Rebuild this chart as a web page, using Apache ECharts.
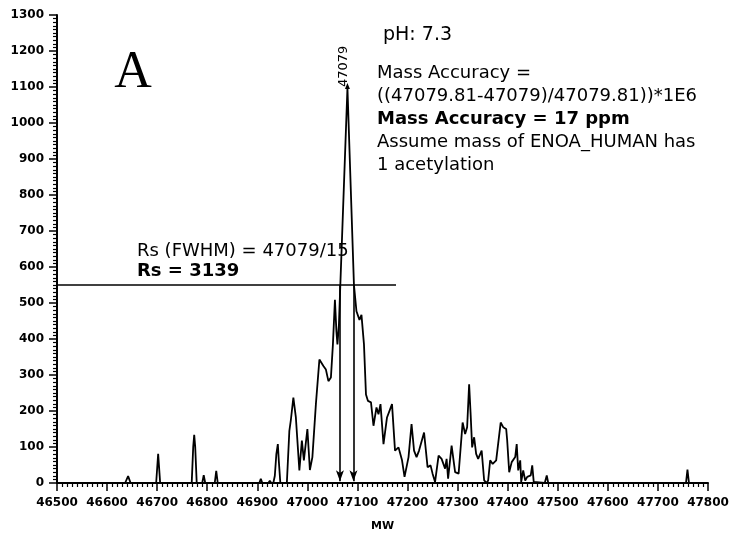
<!DOCTYPE html>
<html>
<head>
<meta charset="utf-8">
<script src="https://cdn.jsdelivr.net/npm/echarts@6/dist/echarts.min.js"></script>
<style>html,body{margin:0;padding:0;background:#fff}#c{width:732px;height:537px}</style>
</head>
<body>
<div id="c"></div>
<script>
// Molecular weight (x) and intensity (y)
const mw = [46500,46636,46642,46647,46698,46702,46706,46769,46772,46774,46776,46779,46790,46793,46796,46815,46818,46821,46904,46907,46910,46922,46925,46928,46932,46935,46938,46941,46943,46946,46959,46964,46967,46972,46977,46984,46989,46993,47000,47005,47010,47017,47024,47032,47037,47042,47047,47051,47055,47058,47060,47063,47065,47080,47093,47098,47104,47108,47113,47117,47121,47127,47132,47138,47142,47146,47152,47159,47169,47175,47182,47189,47194,47202,47208,47213,47218,47223,47233,47240,47246,47250,47255,47262,47268,47275,47278,47281,47288,47295,47302,47310,47315,47319,47323,47326,47329,47333,47337,47341,47348,47353,47358,47361,47365,47370,47377,47386,47391,47397,47399,47403,47408,47415,47418,47421,47425,47427,47431,47435,47439,47446,47449,47452,47455,47474,47478,47481,47665,47668,47671,47756,47759,47762,47800];
const intensity = [0,0,19,0,0,81,0,0,100,134,100,0,0,22,0,0,34,0,0,12,0,0,6,0,0,20,80,108,60,0,0,145,175,237,182,35,118,63,150,36,72,219,343,325,315,283,293,385,509,420,385,440,520,1097,550,477,453,467,385,246,228,224,159,210,191,219,108,182,219,90,99,63,17,72,164,90,72,90,140,44,49,26,3,76,67,40,67,12,104,30,26,168,136,155,274,191,99,127,81,67,90,7,0,7,63,53,63,168,155,150,118,30,58,72,108,35,63,3,35,7,17,21,49,3,0,0,21,0,0,4,0,0,37,0,0];

const peakMW = 47080, peakVal = 1097, peakLabel = '47079';
const rsLevel = 550, rsEnd = 47177;
const arrowMW = [47065, 47092];
const arrowBottom = 5;

const xMin = 46500, xMax = 47800, yMin = 0, yMax = 1300;

const annotLines = [
  {t: 'Mass Accuracy =', b: false},
  {t: '((47079.81-47079)/47079.81))*1E6', b: false},
  {t: 'Mass Accuracy = 17 ppm', b: true},
  {t: 'Assume mass of ENOA_HUMAN has', b: false},
  {t: '1 acetylation', b: false}
];

const chart = echarts.init(document.getElementById('c'), null, {renderer: 'canvas'});
const F = 'DejaVu Sans';
const data = mw.map((m, i) => [m, intensity[i]]);

const graphics = [
  {type: 'text', style: {x: 133, y: 73, text: 'A', font: '52px "Liberation Serif"', fill: '#000', textAlign: 'center', textVerticalAlign: 'middle'}},
  {type: 'text', style: {x: 383, y: 35, text: 'pH: 7.3', font: '19px "' + F + '"', fill: '#000', textAlign: 'left', textVerticalAlign: 'middle'}},
  {type: 'text', style: {x: 137, y: 251, text: 'Rs (FWHM) = 47079/15', font: '18px "' + F + '"', fill: '#000', textAlign: 'left', textVerticalAlign: 'middle'}},
  {type: 'text', style: {x: 137, y: 271, text: 'Rs = 3139', font: 'bold 18px "' + F + '"', fill: '#000', textAlign: 'left', textVerticalAlign: 'middle'}}
];
annotLines.forEach((l, i) => {
  graphics.push({type: 'text', style: {x: 377, y: 73 + i * 23, text: l.t, font: (l.b ? 'bold ' : '') + '18px "' + F + '"', fill: '#000', textAlign: 'left', textVerticalAlign: 'middle'}});
});

const plain = v => String(v);

chart.setOption({
  animation: false,
  backgroundColor: '#fff',
  grid: {left: 57, right: 24, top: 15, bottom: 51, containLabel: false},
  xAxis: {
    type: 'value', min: xMin, max: xMax, interval: 100,
    name: 'MW', nameLocation: 'middle', nameGap: 38,
    nameTextStyle: {fontFamily: F, fontWeight: 'bold', fontSize: 11, color: '#000'},
    axisLine: {show: true, onZero: false, lineStyle: {color: '#000', width: 2}},
    axisTick: {show: true, length: 8, lineStyle: {color: '#000', width: 1.5}},
    minorTick: {show: true, splitNumber: 10, length: 4, lineStyle: {color: '#000', width: 1.2}},
    axisLabel: {fontFamily: F, fontWeight: 'bold', fontSize: 12, color: '#000', margin: 14, formatter: plain},
    splitLine: {show: false}
  },
  yAxis: {
    type: 'value', min: yMin, max: yMax, interval: 100,
    axisLine: {show: true, lineStyle: {color: '#000', width: 2}},
    axisTick: {show: true, length: 8, lineStyle: {color: '#000', width: 1.5}},
    minorTick: {show: true, splitNumber: 10, length: 4, lineStyle: {color: '#000', width: 1.2}},
    axisLabel: {fontFamily: F, fontWeight: 'bold', fontSize: 12, color: '#000', margin: 13, formatter: plain},
    splitLine: {show: false}
  },
  series: [{
    type: 'line',
    data: data,
    showSymbol: false,
    symbol: 'none',
    lineStyle: {color: '#000', width: 1.8},
    silent: true,
    markLine: {
      silent: true,
      animation: false,
      label: {show: false},
      lineStyle: {color: '#000', width: 1.6, type: 'solid'},
      data: [
        [{coord: [xMin, rsLevel], symbol: 'none'}, {coord: [rsEnd, rsLevel], symbol: 'none'}],
        [{coord: [arrowMW[0], rsLevel], symbol: 'none'}, {coord: [arrowMW[0], arrowBottom], symbol: 'arrow', symbolSize: [6, 11]}],
        [{coord: [arrowMW[1], rsLevel], symbol: 'none'}, {coord: [arrowMW[1], arrowBottom], symbol: 'arrow', symbolSize: [6, 11]}]
      ]
    },
    markPoint: {
      silent: true,
      animation: false,
      data: [{
        coord: [peakMW, peakVal],
        symbol: 'triangle', symbolSize: [5, 6], symbolOffset: [0, -2],
        itemStyle: {color: '#000'},
        label: {show: true, formatter: peakLabel, position: 'top', distance: 1, rotate: 90,
          align: 'left', verticalAlign: 'middle', offset: [-5, -4],
          fontFamily: F, fontSize: 13, color: '#000'}
      }]
    }
  }],
  graphic: graphics
});
</script>
</body>
</html>
